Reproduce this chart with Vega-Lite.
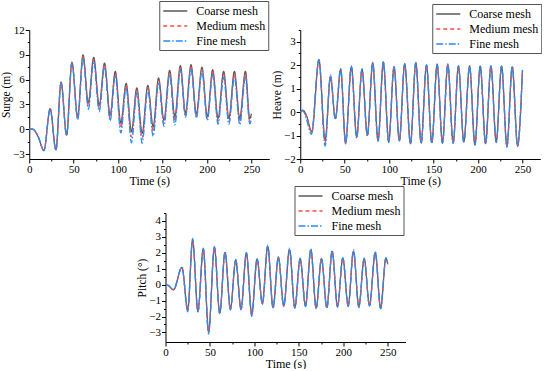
{
  "$schema": "https://vega.github.io/schema/vega-lite/v6.json",
  "padding": {"left": 0, "top": 0, "right": 0, "bottom": 0},
  "background": "white",
  "datasets": {
    "surge": [
      {"t":0,"v":0,"m":"Coarse mesh"},{"t":4,"v":0,"m":"Coarse mesh"},{"t":10,"v":-0.9,"m":"Coarse mesh"},{"t":16.5,"v":-2.55,"m":"Coarse mesh"},{"t":23.5,"v":2.5,"m":"Coarse mesh"},{"t":30,"v":-2.5,"m":"Coarse mesh"},{"t":35.8,"v":5.7,"m":"Coarse mesh"},{"t":42,"v":-0.7,"m":"Coarse mesh"},{"t":48,"v":8.1,"m":"Coarse mesh"},{"t":54.5,"v":1.5,"m":"Coarse mesh"},{"t":60.5,"v":9.0,"m":"Coarse mesh"},{"t":66.5,"v":3.2,"m":"Coarse mesh"},{"t":72.5,"v":8.7,"m":"Coarse mesh"},{"t":78.7,"v":2.9,"m":"Coarse mesh"},{"t":84.7,"v":8.0,"m":"Coarse mesh"},{"t":91,"v":1.7,"m":"Coarse mesh"},{"t":96.8,"v":7.0,"m":"Coarse mesh"},{"t":103,"v":0.75,"m":"Coarse mesh"},{"t":109,"v":5.55,"m":"Coarse mesh"},{"t":115,"v":-0.3,"m":"Coarse mesh"},{"t":121,"v":5.0,"m":"Coarse mesh"},{"t":127,"v":-0.5,"m":"Coarse mesh"},{"t":133.4,"v":5.3,"m":"Coarse mesh"},{"t":139.4,"v":0.3,"m":"Coarse mesh"},{"t":145.5,"v":6.2,"m":"Coarse mesh"},{"t":151.5,"v":1.1,"m":"Coarse mesh"},{"t":158,"v":7.1,"m":"Coarse mesh"},{"t":163.8,"v":1.5,"m":"Coarse mesh"},{"t":170,"v":7.7,"m":"Coarse mesh"},{"t":175.8,"v":1.9,"m":"Coarse mesh"},{"t":182,"v":7.8,"m":"Coarse mesh"},{"t":188,"v":1.8,"m":"Coarse mesh"},{"t":194.3,"v":7.5,"m":"Coarse mesh"},{"t":200.3,"v":1.5,"m":"Coarse mesh"},{"t":206.4,"v":7.2,"m":"Coarse mesh"},{"t":212.4,"v":1.3,"m":"Coarse mesh"},{"t":218.7,"v":7.0,"m":"Coarse mesh"},{"t":224.6,"v":1.3,"m":"Coarse mesh"},{"t":230.8,"v":7.0,"m":"Coarse mesh"},{"t":236.8,"v":1.3,"m":"Coarse mesh"},{"t":243.2,"v":7.0,"m":"Coarse mesh"},{"t":248,"v":1.3,"m":"Coarse mesh"},{"t":250,"v":1.9,"m":"Coarse mesh"},

      {"t":0,"v":0,"m":"Medium mesh"},{"t":4,"v":0,"m":"Medium mesh"},{"t":10,"v":-0.9,"m":"Medium mesh"},{"t":16.5,"v":-2.55,"m":"Medium mesh"},{"t":23.5,"v":2.45,"m":"Medium mesh"},{"t":30,"v":-2.5,"m":"Medium mesh"},{"t":35.8,"v":5.65,"m":"Medium mesh"},{"t":42,"v":-0.7,"m":"Medium mesh"},{"t":48,"v":8.05,"m":"Medium mesh"},{"t":54.5,"v":1.3,"m":"Medium mesh"},{"t":60.5,"v":8.8,"m":"Medium mesh"},{"t":66.5,"v":2.8,"m":"Medium mesh"},{"t":72.5,"v":8.45,"m":"Medium mesh"},{"t":78.7,"v":2.5,"m":"Medium mesh"},{"t":84.7,"v":7.8,"m":"Medium mesh"},{"t":91,"v":1.35,"m":"Medium mesh"},{"t":96.8,"v":6.75,"m":"Medium mesh"},{"t":103,"v":0.15,"m":"Medium mesh"},{"t":109,"v":5.3,"m":"Medium mesh"},{"t":115,"v":-0.95,"m":"Medium mesh"},{"t":121,"v":4.7,"m":"Medium mesh"},{"t":127,"v":-1.1,"m":"Medium mesh"},{"t":133.4,"v":5.05,"m":"Medium mesh"},{"t":139.4,"v":-0.3,"m":"Medium mesh"},{"t":145.5,"v":5.95,"m":"Medium mesh"},{"t":151.5,"v":0.7,"m":"Medium mesh"},{"t":158,"v":6.85,"m":"Medium mesh"},{"t":163.8,"v":1.0,"m":"Medium mesh"},{"t":170,"v":7.45,"m":"Medium mesh"},{"t":175.8,"v":1.65,"m":"Medium mesh"},{"t":182,"v":7.55,"m":"Medium mesh"},{"t":188,"v":1.55,"m":"Medium mesh"},{"t":194.3,"v":7.25,"m":"Medium mesh"},{"t":200.3,"v":1.25,"m":"Medium mesh"},{"t":206.4,"v":6.9,"m":"Medium mesh"},{"t":212.4,"v":0.95,"m":"Medium mesh"},{"t":218.7,"v":6.65,"m":"Medium mesh"},{"t":224.6,"v":0.9,"m":"Medium mesh"},{"t":230.8,"v":6.65,"m":"Medium mesh"},{"t":236.8,"v":0.9,"m":"Medium mesh"},{"t":243.2,"v":6.65,"m":"Medium mesh"},{"t":248,"v":0.95,"m":"Medium mesh"},{"t":250,"v":1.5,"m":"Medium mesh"},

      {"t":0,"v":0,"m":"Fine mesh"},{"t":4,"v":0,"m":"Fine mesh"},{"t":10,"v":-0.9,"m":"Fine mesh"},{"t":16.5,"v":-2.6,"m":"Fine mesh"},{"t":23.5,"v":2.4,"m":"Fine mesh"},{"t":30,"v":-2.55,"m":"Fine mesh"},{"t":35.8,"v":5.6,"m":"Fine mesh"},{"t":42,"v":-0.75,"m":"Fine mesh"},{"t":48,"v":8.0,"m":"Fine mesh"},{"t":54.5,"v":1.15,"m":"Fine mesh"},{"t":60.5,"v":8.6,"m":"Fine mesh"},{"t":66.5,"v":2.4,"m":"Fine mesh"},{"t":72.5,"v":8.2,"m":"Fine mesh"},{"t":78.7,"v":2.1,"m":"Fine mesh"},{"t":84.7,"v":7.5,"m":"Fine mesh"},{"t":91,"v":1.0,"m":"Fine mesh"},{"t":96.8,"v":6.5,"m":"Fine mesh"},{"t":103,"v":-0.45,"m":"Fine mesh"},{"t":109,"v":5.0,"m":"Fine mesh"},{"t":115,"v":-1.65,"m":"Fine mesh"},{"t":121,"v":4.4,"m":"Fine mesh"},{"t":127,"v":-1.7,"m":"Fine mesh"},{"t":133.4,"v":4.8,"m":"Fine mesh"},{"t":139.4,"v":-0.85,"m":"Fine mesh"},{"t":145.5,"v":5.7,"m":"Fine mesh"},{"t":151.5,"v":0.35,"m":"Fine mesh"},{"t":158,"v":6.6,"m":"Fine mesh"},{"t":163.8,"v":0.5,"m":"Fine mesh"},{"t":170,"v":7.2,"m":"Fine mesh"},{"t":175.8,"v":1.45,"m":"Fine mesh"},{"t":182,"v":7.3,"m":"Fine mesh"},{"t":188,"v":1.35,"m":"Fine mesh"},{"t":194.3,"v":7.0,"m":"Fine mesh"},{"t":200.3,"v":1.05,"m":"Fine mesh"},{"t":206.4,"v":6.6,"m":"Fine mesh"},{"t":212.4,"v":0.6,"m":"Fine mesh"},{"t":218.7,"v":6.3,"m":"Fine mesh"},{"t":224.6,"v":0.6,"m":"Fine mesh"},{"t":230.8,"v":6.3,"m":"Fine mesh"},{"t":236.8,"v":0.55,"m":"Fine mesh"},{"t":243.2,"v":6.3,"m":"Fine mesh"},{"t":248,"v":0.65,"m":"Fine mesh"},{"t":250,"v":1.2,"m":"Fine mesh"}
    ],
    "heave": [
      {"t":0,"v":0,"m":"Coarse mesh"},{"t":3,"v":0.08,"m":"Coarse mesh"},{"t":7,"v":-0.15,"m":"Coarse mesh"},{"t":13,"v":-0.84,"m":"Coarse mesh"},{"t":21,"v":2.22,"m":"Coarse mesh"},{"t":28,"v":-1.2,"m":"Coarse mesh"},{"t":34,"v":1.48,"m":"Coarse mesh"},{"t":39.5,"v":-0.28,"m":"Coarse mesh"},{"t":45.5,"v":1.82,"m":"Coarse mesh"},{"t":51,"v":-1.33,"m":"Coarse mesh"},{"t":57.5,"v":1.93,"m":"Coarse mesh"},{"t":63.5,"v":-1.05,"m":"Coarse mesh"},{"t":69.5,"v":1.82,"m":"Coarse mesh"},{"t":75.5,"v":-0.98,"m":"Coarse mesh"},{"t":81.5,"v":2.1,"m":"Coarse mesh"},{"t":87.5,"v":-1.2,"m":"Coarse mesh"},{"t":93.5,"v":2.13,"m":"Coarse mesh"},{"t":99.5,"v":-1.26,"m":"Coarse mesh"},{"t":105.5,"v":1.93,"m":"Coarse mesh"},{"t":111.5,"v":-1.2,"m":"Coarse mesh"},{"t":117.5,"v":2.05,"m":"Coarse mesh"},{"t":124,"v":-1.33,"m":"Coarse mesh"},{"t":130,"v":2.1,"m":"Coarse mesh"},{"t":136,"v":-1.3,"m":"Coarse mesh"},{"t":142,"v":2.0,"m":"Coarse mesh"},{"t":148,"v":-1.3,"m":"Coarse mesh"},{"t":154,"v":2.03,"m":"Coarse mesh"},{"t":160,"v":-1.3,"m":"Coarse mesh"},{"t":166,"v":2.03,"m":"Coarse mesh"},{"t":172,"v":-1.3,"m":"Coarse mesh"},{"t":178,"v":1.96,"m":"Coarse mesh"},{"t":184,"v":-1.26,"m":"Coarse mesh"},{"t":190.5,"v":1.96,"m":"Coarse mesh"},{"t":196.5,"v":-1.38,"m":"Coarse mesh"},{"t":202.5,"v":1.96,"m":"Coarse mesh"},{"t":208.5,"v":-1.33,"m":"Coarse mesh"},{"t":214.5,"v":1.96,"m":"Coarse mesh"},{"t":220.5,"v":-1.26,"m":"Coarse mesh"},{"t":226.5,"v":1.96,"m":"Coarse mesh"},{"t":232.5,"v":-1.45,"m":"Coarse mesh"},{"t":238.5,"v":1.93,"m":"Coarse mesh"},{"t":244.5,"v":-1.42,"m":"Coarse mesh"},{"t":250,"v":1.79,"m":"Coarse mesh"},

      {"t":0,"v":0,"m":"Medium mesh"},{"t":3,"v":0.07,"m":"Medium mesh"},{"t":7,"v":-0.2,"m":"Medium mesh"},{"t":13,"v":-0.88,"m":"Medium mesh"},{"t":21,"v":2.2,"m":"Medium mesh"},{"t":28,"v":-1.3,"m":"Medium mesh"},{"t":34,"v":1.52,"m":"Medium mesh"},{"t":39.5,"v":-0.3,"m":"Medium mesh"},{"t":45.5,"v":1.8,"m":"Medium mesh"},{"t":51,"v":-1.3,"m":"Medium mesh"},{"t":57.5,"v":1.9,"m":"Medium mesh"},{"t":63.5,"v":-1.08,"m":"Medium mesh"},{"t":69.5,"v":1.78,"m":"Medium mesh"},{"t":75.5,"v":-1.0,"m":"Medium mesh"},{"t":81.5,"v":2.05,"m":"Medium mesh"},{"t":87.5,"v":-1.22,"m":"Medium mesh"},{"t":93.5,"v":2.08,"m":"Medium mesh"},{"t":99.5,"v":-1.28,"m":"Medium mesh"},{"t":105.5,"v":1.9,"m":"Medium mesh"},{"t":111.5,"v":-1.22,"m":"Medium mesh"},{"t":117.5,"v":2.0,"m":"Medium mesh"},{"t":124,"v":-1.35,"m":"Medium mesh"},{"t":130,"v":2.06,"m":"Medium mesh"},{"t":136,"v":-1.32,"m":"Medium mesh"},{"t":142,"v":1.96,"m":"Medium mesh"},{"t":148,"v":-1.32,"m":"Medium mesh"},{"t":154,"v":2.0,"m":"Medium mesh"},{"t":160,"v":-1.32,"m":"Medium mesh"},{"t":166,"v":2.0,"m":"Medium mesh"},{"t":172,"v":-1.32,"m":"Medium mesh"},{"t":178,"v":1.93,"m":"Medium mesh"},{"t":184,"v":-1.28,"m":"Medium mesh"},{"t":190.5,"v":1.93,"m":"Medium mesh"},{"t":196.5,"v":-1.4,"m":"Medium mesh"},{"t":202.5,"v":1.93,"m":"Medium mesh"},{"t":208.5,"v":-1.35,"m":"Medium mesh"},{"t":214.5,"v":1.93,"m":"Medium mesh"},{"t":220.5,"v":-1.28,"m":"Medium mesh"},{"t":226.5,"v":1.93,"m":"Medium mesh"},{"t":232.5,"v":-1.47,"m":"Medium mesh"},{"t":238.5,"v":1.9,"m":"Medium mesh"},{"t":244.5,"v":-1.44,"m":"Medium mesh"},{"t":250,"v":1.76,"m":"Medium mesh"},

      {"t":0,"v":0,"m":"Fine mesh"},{"t":3,"v":0.05,"m":"Fine mesh"},{"t":7,"v":-0.3,"m":"Fine mesh"},{"t":12.5,"v":-0.95,"m":"Fine mesh"},{"t":21,"v":2.25,"m":"Fine mesh"},{"t":28,"v":-1.45,"m":"Fine mesh"},{"t":34,"v":1.6,"m":"Fine mesh"},{"t":39.5,"v":-0.32,"m":"Fine mesh"},{"t":45.5,"v":1.85,"m":"Fine mesh"},{"t":51,"v":-1.35,"m":"Fine mesh"},{"t":57.5,"v":1.97,"m":"Fine mesh"},{"t":63.5,"v":-1.12,"m":"Fine mesh"},{"t":69.5,"v":1.85,"m":"Fine mesh"},{"t":75.5,"v":-1.02,"m":"Fine mesh"},{"t":81.5,"v":2.12,"m":"Fine mesh"},{"t":87.5,"v":-1.25,"m":"Fine mesh"},{"t":93.5,"v":2.16,"m":"Fine mesh"},{"t":99.5,"v":-1.3,"m":"Fine mesh"},{"t":105.5,"v":1.95,"m":"Fine mesh"},{"t":111.5,"v":-1.24,"m":"Fine mesh"},{"t":117.5,"v":2.07,"m":"Fine mesh"},{"t":124,"v":-1.37,"m":"Fine mesh"},{"t":130,"v":2.12,"m":"Fine mesh"},{"t":136,"v":-1.34,"m":"Fine mesh"},{"t":142,"v":2.02,"m":"Fine mesh"},{"t":148,"v":-1.34,"m":"Fine mesh"},{"t":154,"v":2.05,"m":"Fine mesh"},{"t":160,"v":-1.34,"m":"Fine mesh"},{"t":166,"v":2.05,"m":"Fine mesh"},{"t":172,"v":-1.34,"m":"Fine mesh"},{"t":178,"v":1.98,"m":"Fine mesh"},{"t":184,"v":-1.3,"m":"Fine mesh"},{"t":190.5,"v":1.98,"m":"Fine mesh"},{"t":196.5,"v":-1.42,"m":"Fine mesh"},{"t":202.5,"v":1.98,"m":"Fine mesh"},{"t":208.5,"v":-1.37,"m":"Fine mesh"},{"t":214.5,"v":1.98,"m":"Fine mesh"},{"t":220.5,"v":-1.3,"m":"Fine mesh"},{"t":226.5,"v":1.98,"m":"Fine mesh"},{"t":232.5,"v":-1.5,"m":"Fine mesh"},{"t":238.5,"v":1.95,"m":"Fine mesh"},{"t":244.5,"v":-1.47,"m":"Fine mesh"},{"t":250,"v":1.8,"m":"Fine mesh"}
    ],
    "pitch": [
      {"t":0,"v":0,"m":"Coarse mesh"},{"t":3,"v":-0.05,"m":"Coarse mesh"},{"t":9,"v":-0.32,"m":"Coarse mesh"},{"t":18.5,"v":1.09,"m":"Coarse mesh"},{"t":25,"v":-1.57,"m":"Coarse mesh"},{"t":30.5,"v":2.8,"m":"Coarse mesh"},{"t":36.5,"v":-1.65,"m":"Coarse mesh"},{"t":42.5,"v":2.23,"m":"Coarse mesh"},{"t":48.5,"v":-2.95,"m":"Coarse mesh"},{"t":55,"v":2.34,"m":"Coarse mesh"},{"t":61,"v":-1.77,"m":"Coarse mesh"},{"t":67,"v":2.03,"m":"Coarse mesh"},{"t":73,"v":-1.52,"m":"Coarse mesh"},{"t":79,"v":1.54,"m":"Coarse mesh"},{"t":85,"v":-1.52,"m":"Coarse mesh"},{"t":91,"v":1.98,"m":"Coarse mesh"},{"t":97,"v":-1.84,"m":"Coarse mesh"},{"t":103,"v":1.6,"m":"Coarse mesh"},{"t":109,"v":-1.17,"m":"Coarse mesh"},{"t":115,"v":2.4,"m":"Coarse mesh"},{"t":121,"v":-1.42,"m":"Coarse mesh"},{"t":127,"v":1.71,"m":"Coarse mesh"},{"t":133,"v":-1.32,"m":"Coarse mesh"},{"t":139.5,"v":2.19,"m":"Coarse mesh"},{"t":145.5,"v":-1.42,"m":"Coarse mesh"},{"t":151.5,"v":1.63,"m":"Coarse mesh"},{"t":157.5,"v":-1.32,"m":"Coarse mesh"},{"t":163.5,"v":2.19,"m":"Coarse mesh"},{"t":169.5,"v":-1.46,"m":"Coarse mesh"},{"t":175.5,"v":1.63,"m":"Coarse mesh"},{"t":181.5,"v":-1.42,"m":"Coarse mesh"},{"t":187.5,"v":2.09,"m":"Coarse mesh"},{"t":193.5,"v":-1.36,"m":"Coarse mesh"},{"t":199.5,"v":1.67,"m":"Coarse mesh"},{"t":205.5,"v":-1.32,"m":"Coarse mesh"},{"t":211.5,"v":2.09,"m":"Coarse mesh"},{"t":217.5,"v":-1.38,"m":"Coarse mesh"},{"t":223.5,"v":1.63,"m":"Coarse mesh"},{"t":229.5,"v":-1.29,"m":"Coarse mesh"},{"t":236,"v":2.03,"m":"Coarse mesh"},{"t":242,"v":-1.46,"m":"Coarse mesh"},{"t":248,"v":1.67,"m":"Coarse mesh"},{"t":250,"v":1.3,"m":"Coarse mesh"},

      {"t":0,"v":0,"m":"Medium mesh"},{"t":3,"v":-0.05,"m":"Medium mesh"},{"t":9,"v":-0.32,"m":"Medium mesh"},{"t":18.5,"v":1.07,"m":"Medium mesh"},{"t":25,"v":-1.6,"m":"Medium mesh"},{"t":30.5,"v":2.75,"m":"Medium mesh"},{"t":36.5,"v":-1.68,"m":"Medium mesh"},{"t":42.5,"v":2.2,"m":"Medium mesh"},{"t":48.5,"v":-2.98,"m":"Medium mesh"},{"t":55,"v":2.3,"m":"Medium mesh"},{"t":61,"v":-1.8,"m":"Medium mesh"},{"t":67,"v":2.0,"m":"Medium mesh"},{"t":73,"v":-1.55,"m":"Medium mesh"},{"t":79,"v":1.52,"m":"Medium mesh"},{"t":85,"v":-1.55,"m":"Medium mesh"},{"t":91,"v":1.95,"m":"Medium mesh"},{"t":97,"v":-1.88,"m":"Medium mesh"},{"t":103,"v":1.58,"m":"Medium mesh"},{"t":109,"v":-1.2,"m":"Medium mesh"},{"t":115,"v":2.36,"m":"Medium mesh"},{"t":121,"v":-1.45,"m":"Medium mesh"},{"t":127,"v":1.69,"m":"Medium mesh"},{"t":133,"v":-1.35,"m":"Medium mesh"},{"t":139.5,"v":2.15,"m":"Medium mesh"},{"t":145.5,"v":-1.45,"m":"Medium mesh"},{"t":151.5,"v":1.6,"m":"Medium mesh"},{"t":157.5,"v":-1.35,"m":"Medium mesh"},{"t":163.5,"v":2.15,"m":"Medium mesh"},{"t":169.5,"v":-1.49,"m":"Medium mesh"},{"t":175.5,"v":1.6,"m":"Medium mesh"},{"t":181.5,"v":-1.45,"m":"Medium mesh"},{"t":187.5,"v":2.05,"m":"Medium mesh"},{"t":193.5,"v":-1.39,"m":"Medium mesh"},{"t":199.5,"v":1.64,"m":"Medium mesh"},{"t":205.5,"v":-1.35,"m":"Medium mesh"},{"t":211.5,"v":2.05,"m":"Medium mesh"},{"t":217.5,"v":-1.41,"m":"Medium mesh"},{"t":223.5,"v":1.6,"m":"Medium mesh"},{"t":229.5,"v":-1.32,"m":"Medium mesh"},{"t":236,"v":2.0,"m":"Medium mesh"},{"t":242,"v":-1.49,"m":"Medium mesh"},{"t":248,"v":1.64,"m":"Medium mesh"},{"t":250,"v":1.35,"m":"Medium mesh"},

      {"t":0,"v":0,"m":"Fine mesh"},{"t":3,"v":-0.05,"m":"Fine mesh"},{"t":9,"v":-0.3,"m":"Fine mesh"},{"t":18.5,"v":1.1,"m":"Fine mesh"},{"t":25,"v":-1.7,"m":"Fine mesh"},{"t":30.5,"v":2.9,"m":"Fine mesh"},{"t":36.5,"v":-1.72,"m":"Fine mesh"},{"t":42.5,"v":2.3,"m":"Fine mesh"},{"t":48.5,"v":-3.1,"m":"Fine mesh"},{"t":55,"v":2.4,"m":"Fine mesh"},{"t":61,"v":-1.85,"m":"Fine mesh"},{"t":67,"v":2.08,"m":"Fine mesh"},{"t":73,"v":-1.6,"m":"Fine mesh"},{"t":79,"v":1.58,"m":"Fine mesh"},{"t":85,"v":-1.6,"m":"Fine mesh"},{"t":91,"v":2.03,"m":"Fine mesh"},{"t":97,"v":-2.0,"m":"Fine mesh"},{"t":103,"v":1.64,"m":"Fine mesh"},{"t":109,"v":-1.24,"m":"Fine mesh"},{"t":115,"v":2.5,"m":"Fine mesh"},{"t":121,"v":-1.48,"m":"Fine mesh"},{"t":127,"v":1.75,"m":"Fine mesh"},{"t":133,"v":-1.38,"m":"Fine mesh"},{"t":139.5,"v":2.3,"m":"Fine mesh"},{"t":145.5,"v":-1.48,"m":"Fine mesh"},{"t":151.5,"v":1.66,"m":"Fine mesh"},{"t":157.5,"v":-1.38,"m":"Fine mesh"},{"t":163.5,"v":2.26,"m":"Fine mesh"},{"t":169.5,"v":-1.52,"m":"Fine mesh"},{"t":175.5,"v":1.66,"m":"Fine mesh"},{"t":181.5,"v":-1.48,"m":"Fine mesh"},{"t":187.5,"v":2.15,"m":"Fine mesh"},{"t":193.5,"v":-1.42,"m":"Fine mesh"},{"t":199.5,"v":1.7,"m":"Fine mesh"},{"t":205.5,"v":-1.38,"m":"Fine mesh"},{"t":211.5,"v":2.2,"m":"Fine mesh"},{"t":217.5,"v":-1.44,"m":"Fine mesh"},{"t":223.5,"v":1.66,"m":"Fine mesh"},{"t":229.5,"v":-1.35,"m":"Fine mesh"},{"t":236,"v":2.08,"m":"Fine mesh"},{"t":242,"v":-1.52,"m":"Fine mesh"},{"t":248,"v":1.7,"m":"Fine mesh"},{"t":250,"v":1.25,"m":"Fine mesh"}
    ]
  },
  "vconcat": [
    {
      "hconcat": [
        {
          "width": 240, "height": 129,
          "data": {"name": "surge"},
          "mark": {"type": "line", "interpolate": "monotone", "strokeWidth": 1.3, "clip": true},
          "encoding": {
            "x": {"field": "t", "type": "quantitative", "scale": {"domain": [0, 270], "nice": false},
                  "axis": {"title": "Time (s)", "values": [0,25,50,75,100,125,150,175,200,225,250], "labelExpr": "datum.value % 50 === 0 ? datum.label : ''",
                           "tickSize": {"condition": {"test": "datum.value % 50 === 0", "value": 4}, "value": 2}}},
            "y": {"field": "v", "type": "quantitative", "scale": {"domain": [-3.6, 12], "nice": false, "zero": false},
                  "axis": {"title": "Surge (m)", "format": "~g", "values": [-3,-1.5,0,1.5,3,4.5,6,7.5,9,10.5,12], "labelExpr": "datum.value % 3 === 0 ? datum.label : ''",
                           "tickSize": {"condition": {"test": "datum.value % 3 === 0", "value": 4}, "value": 2}}},
            "color": {"field": "m", "type": "nominal", "sort": ["Coarse mesh", "Medium mesh", "Fine mesh"],
                      "scale": {"domain": ["Coarse mesh", "Medium mesh", "Fine mesh"], "range": ["#5a5a5a", "#ff4a4a", "#2a8cf0"]},
                      "legend": {"orient": "none", "legendX": 130, "legendY": -29}},
            "strokeDash": {"field": "m", "type": "nominal", "sort": ["Coarse mesh", "Medium mesh", "Fine mesh"],
                      "scale": {"domain": ["Coarse mesh", "Medium mesh", "Fine mesh"], "range": [[1, 0], [4, 3], [7, 2, 1.5, 2]]},
                      "legend": {"orient": "none", "legendX": 130, "legendY": -29}}
          }
        },
        {
          "width": 240, "height": 129,
          "data": {"name": "heave"},
          "mark": {"type": "line", "interpolate": "monotone", "strokeWidth": 1.3, "clip": true},
          "encoding": {
            "x": {"field": "t", "type": "quantitative", "scale": {"domain": [0, 270], "nice": false},
                  "axis": {"title": "Time (s)", "values": [0,25,50,75,100,125,150,175,200,225,250], "labelExpr": "datum.value % 50 === 0 ? datum.label : ''",
                           "tickSize": {"condition": {"test": "datum.value % 50 === 0", "value": 4}, "value": 2}}},
            "y": {"field": "v", "type": "quantitative", "scale": {"domain": [-2, 3.5], "nice": false, "zero": false},
                  "axis": {"title": "Heave (m)", "format": "~g", "values": [-2,-1.5,-1,-0.5,0,0.5,1,1.5,2,2.5,3,3.5], "labelExpr": "datum.value % 1 === 0 ? datum.label : ''",
                           "tickSize": {"condition": {"test": "datum.value % 1 === 0", "value": 4}, "value": 2}}},
            "color": {"field": "m", "type": "nominal", "sort": ["Coarse mesh", "Medium mesh", "Fine mesh"],
                      "scale": {"domain": ["Coarse mesh", "Medium mesh", "Fine mesh"], "range": ["#5a5a5a", "#ff4a4a", "#2a8cf0"]},
                      "legend": {"orient": "none", "legendX": 132, "legendY": -26}},
            "strokeDash": {"field": "m", "type": "nominal", "sort": ["Coarse mesh", "Medium mesh", "Fine mesh"],
                      "scale": {"domain": ["Coarse mesh", "Medium mesh", "Fine mesh"], "range": [[1, 0], [4, 3], [7, 2, 1.5, 2]]},
                      "legend": {"orient": "none", "legendX": 132, "legendY": -26}}
          }
        }
      ],
      "spacing": 2,
      "resolve": {"scale": {"color": "independent", "strokeDash": "independent"}, "legend": {"color": "independent", "strokeDash": "independent"}}
    },
    {
      "width": 240, "height": 129,
      "data": {"name": "pitch"},
      "mark": {"type": "line", "interpolate": "monotone", "strokeWidth": 1.3, "clip": true},
      "encoding": {
        "x": {"field": "t", "type": "quantitative", "scale": {"domain": [0, 270], "nice": false},
              "axis": {"title": "Time (s)", "values": [0,25,50,75,100,125,150,175,200,225,250], "labelExpr": "datum.value % 50 === 0 ? datum.label : ''",
                       "tickSize": {"condition": {"test": "datum.value % 50 === 0", "value": 4}, "value": 2}}},
        "y": {"field": "v", "type": "quantitative", "scale": {"domain": [-3.6, 4.5], "nice": false, "zero": false},
              "axis": {"title": "Pitch (°)", "format": "~g", "values": [-3,-2.5,-2,-1.5,-1,-0.5,0,0.5,1,1.5,2,2.5,3,3.5,4,4.5], "labelExpr": "datum.value % 1 === 0 ? datum.label : ''",
                       "tickSize": {"condition": {"test": "datum.value % 1 === 0", "value": 4}, "value": 2}}},
        "color": {"field": "m", "type": "nominal", "sort": ["Coarse mesh", "Medium mesh", "Fine mesh"],
                  "scale": {"domain": ["Coarse mesh", "Medium mesh", "Fine mesh"], "range": ["#5a5a5a", "#ff4a4a", "#2a8cf0"]},
                  "legend": {"orient": "none", "legendX": 129, "legendY": -27}},
        "strokeDash": {"field": "m", "type": "nominal", "sort": ["Coarse mesh", "Medium mesh", "Fine mesh"],
                  "scale": {"domain": ["Coarse mesh", "Medium mesh", "Fine mesh"], "range": [[1, 0], [4, 3], [7, 2, 1.5, 2]]},
                  "legend": {"orient": "none", "legendX": 129, "legendY": -27}}
      }
    }
  ],
  "spacing": -1,
  "center": true,
  "resolve": {"scale": {"color": "independent", "strokeDash": "independent"}, "legend": {"color": "independent", "strokeDash": "independent"}},
  "config": {
    "view": {"stroke": null},
    "axis": {
      "labelFont": "Liberation Serif", "labelFontSize": 11, "labelColor": "#000",
      "titleFont": "Liberation Serif", "titleFontSize": 12, "titleFontWeight": "normal", "titleColor": "#000",
      "domainColor": "#000", "domainWidth": 1, "tickColor": "#000", "tickWidth": 1,
      "grid": false, "labelFlush": false, "labelOverlap": false, "labelPadding": 1, "titlePadding": 1
    },
    "axisX": {"labelPadding": 0, "titlePadding": 1},
    "axisY": {"titleFontSize": 11.5},
    "legend": {
      "title": null, "labelFont": "Liberation Serif", "labelFontSize": 12, "labelColor": "#000",
      "symbolType": "M-2,0H2", "symbolSize": 144, "symbolStrokeWidth": 1.4, "symbolOffset": 6,
      "fillColor": "white", "strokeColor": "#555", "padding": 3, "rowPadding": 2, "labelOffset": 14
    }
  }
}
